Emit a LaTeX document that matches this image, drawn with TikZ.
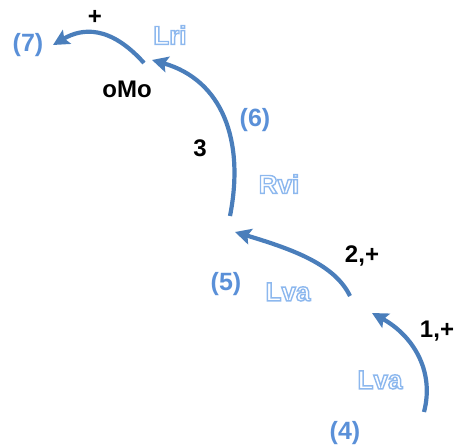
\documentclass[tikz,border=0pt]{standalone}
\usepackage{fontspec}
\setmainfont{Liberation Sans}
\usetikzlibrary{arrows.meta}
\definecolor{arrowblue}{HTML}{4A7EBB}
\definecolor{numblue}{HTML}{5A90D8}
\definecolor{paleblue}{HTML}{8DB8EE}
% outlined letters: stroke only
\newcommand{\hollow}[1]{\special{pdf:literal direct 1 Tr 1.4 w}\textcolor{paleblue}{#1}\special{pdf:literal direct 0 Tr}}
\begin{document}
\begin{tikzpicture}[x=1pt,y=-1pt,
	path/.style={arrowblue,line width=4.2pt,-{Stealth[length=16pt,width=16pt,inset=3pt]}},
	num/.style={numblue,font=\fontsize{25}{28}\selectfont\bfseries},
	lab/.style={font=\fontsize{24}{27}\selectfont\bfseries},
	cell/.style={font=\fontsize{26}{29}\selectfont\bfseries}]
	\useasboundingbox (0,0) rectangle (456,447);
	\coordinate (s1) at (424,412); \coordinate (e1) at (372,313);
	\coordinate (s2) at (350,296); \coordinate (e2) at (235,232);
	\coordinate (s3) at (230,216); \coordinate (e3) at (152,60);
	\coordinate (s4) at (144,63);  \coordinate (e4) at (53,45);
	\draw[path] (s1) .. controls (435,370) and (412,335) .. (e1);
	\draw[path] (s2) .. controls (335,265) and (295,250) .. (e2);
	\draw[path] (s3) .. controls (245,140) and (222,80) .. (e3);
	\draw[path] (s4) .. controls (110,25) and (82,28) .. (e4);
	\node[num] (n7) at (28,45) {(7)};
	\node[num] (n6) at (255,120) {(6)};
	\node[num] (n5) at (226,284) {(5)};
	\node[num] (n4) at (345,433) {(4)};
	\node[lab] (plus) at (95,17) {+};
	\node[lab] (omo) at (127,89) {oMo};
	\node[lab] (three) at (200,148) {3};
	\node[lab] (twoplus) at (362,256) {2,+};
	\node[lab] (oneplus) at (437,331) {1,+};
	\node[cell] (lri) at (170,35) {\hollow{Lri}};
	\node[cell] (rvi) at (279,184) {\hollow{Rvi}};
	\node[cell] (lvaup) at (288,292) {\hollow{Lva}};
	\node[cell] (lvalow) at (380,380) {\hollow{Lva}};
\end{tikzpicture}
\end{document}
